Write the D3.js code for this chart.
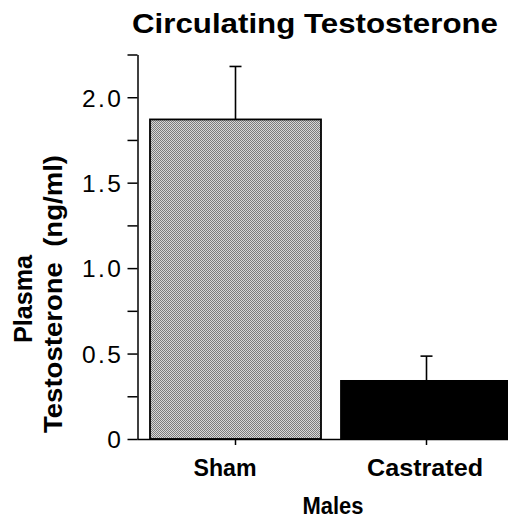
<!DOCTYPE html>
<html>
<head>
<meta charset="utf-8">
<script src="https://cdn.jsdelivr.net/npm/d3@7"></script>
<style>
  html, body { margin: 0; padding: 0; background: #fff; }
  svg { display: block; }
  text { font-family: "Liberation Sans", Arial, Helvetica, sans-serif; fill: #000; }
</style>
</head>
<body>
<svg id="chart" width="508" height="518"></svg>
<script>
// ---- data ----
const categories = ["Sham", "Castrated"];
const means = [1.87, 0.34];
const errors = [0.31, 0.145];
const majorTicks = [0, 0.5, 1.0, 1.5, 2.0];
const tickLabels = ["0", "0.5", "1.0", "1.5", "2.0"];
const minorTicks = [0.25, 0.75, 1.25, 1.75, 2.25];
const title = "Circulating Testosterone";
const yTitleLines = ["Plasma", "Testosterone  (ng/ml)"];
const xTitle = "Males";

const svg = d3.select("#chart");
const defs = svg.append("defs");
const pat = defs.append("pattern").attr("id", "stipple")
  .attr("width", 2).attr("height", 2).attr("patternUnits", "userSpaceOnUse");
pat.append("rect").attr("width", 2).attr("height", 2).attr("fill", "#d8d8d8");
pat.append("rect").attr("width", 1).attr("height", 1).attr("fill", "#7c7c7c");
pat.append("rect").attr("x", 1).attr("y", 1).attr("width", 1).attr("height", 1).attr("fill", "#7c7c7c");

const y = d3.scaleLinear().domain([0, 2.25]).range([439, 54.5]);
const x = d3.scaleBand().domain(categories).range([150, 512]).paddingInner(0.1047).paddingOuter(0);
const axisX = 137.5;

// bars
const fills = ["url(#stipple)", "#000"];
svg.selectAll("rect.bar").data(categories).enter().append("rect")
  .attr("class", "bar")
  .attr("x", d => x(d))
  .attr("y", (d, i) => y(means[i]))
  .attr("width", x.bandwidth())
  .attr("height", (d, i) => y(0) - y(means[i]))
  .attr("fill", (d, i) => fills[i])
  .attr("stroke", "#000").attr("stroke-width", 1.8);

// error bars
const eb = svg.append("g").attr("stroke", "#000").attr("stroke-width", 1.6);
categories.forEach((c, i) => {
  const cx = x(c) + x.bandwidth() / 2;
  eb.append("line").attr("x1", cx).attr("x2", cx).attr("y1", y(means[i])).attr("y2", y(means[i] + errors[i]));
  eb.append("line").attr("x1", cx - 6).attr("x2", cx + 6).attr("y1", y(means[i] + errors[i])).attr("y2", y(means[i] + errors[i]));
});

// y axis
const yAxis = d3.axisLeft(y).tickValues(majorTicks.concat(minorTicks)).tickSize(10).tickSizeOuter(0)
  .tickFormat(d => { const k = majorTicks.indexOf(d); return k >= 0 ? tickLabels[k] : ""; })
  .tickPadding(5);
const gy = svg.append("g").attr("transform", `translate(${axisX},0)`).call(yAxis);
gy.select(".domain").attr("stroke-width", 1.5);
gy.selectAll(".tick line").attr("stroke-width", 1.5);
gy.selectAll(".tick text").attr("font-size", 24.5).attr("letter-spacing", "2.5px")
  .attr("font-family", "Liberation Sans, Arial, sans-serif").attr("dy", "0.36em").attr("x", -14);

// x axis
const xAxis = d3.axisBottom(x).tickSize(6).tickSizeOuter(0).tickFormat("");
const gx = svg.append("g").attr("transform", `translate(0,${y(0)})`).call(xAxis);
gx.select(".domain").attr("d", `M${axisX},0.5H508`).attr("stroke-width", 1.5);
gx.selectAll(".tick line").attr("stroke-width", 1.5);

// category labels
const labelPos = [{cx: 225, w: 63}, {cx: 425, w: 116}];
categories.forEach((c, i) => {
  svg.append("text").attr("x", labelPos[i].cx).attr("y", 476)
    .attr("text-anchor", "middle").attr("font-size", 24).attr("font-weight", "bold")
    .attr("textLength", labelPos[i].w).attr("lengthAdjust", "spacingAndGlyphs").text(c);
});

// title
svg.append("text").attr("x", 315).attr("y", 32.5).attr("text-anchor", "middle")
  .attr("font-size", 28.5).attr("font-weight", "bold")
  .attr("textLength", 366).attr("lengthAdjust", "spacingAndGlyphs").text(title);

// x title
svg.append("text").attr("x", 333).attr("y", 514).attr("text-anchor", "middle")
  .attr("font-size", 23).attr("font-weight", "bold").attr("textLength", 61).attr("lengthAdjust", "spacingAndGlyphs").text(xTitle);

// y title
svg.append("text").attr("transform", "translate(32,299) rotate(-90)").attr("text-anchor", "middle")
  .attr("font-size", 25).attr("font-weight", "bold").attr("textLength", 88).attr("lengthAdjust", "spacingAndGlyphs")
  .text(yTitleLines[0]);
svg.append("text").attr("transform", "translate(61.5,294) rotate(-90)").attr("text-anchor", "middle")
  .attr("font-size", 25).attr("font-weight", "bold").attr("textLength", 278).attr("lengthAdjust", "spacingAndGlyphs")
  .style("white-space", "pre").text(yTitleLines[1]);
</script>
</body>
</html>
